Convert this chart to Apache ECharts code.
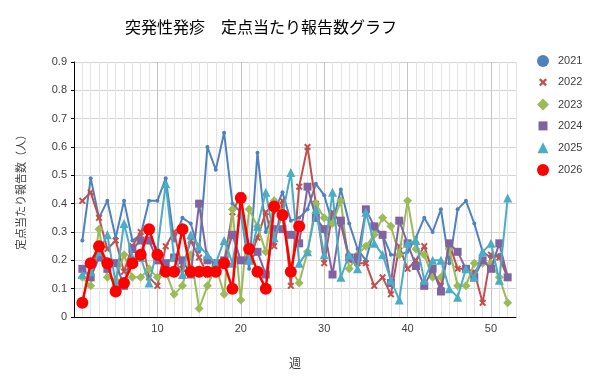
<!DOCTYPE html>
<html>
<head>
<meta charset="utf-8">
<script src="https://cdn.jsdelivr.net/npm/echarts@6/dist/echarts.min.js"></script>
<style>
  html, body { margin: 0; padding: 0; background: #fff; }
  #chart { width: 600px; height: 384px; }
</style>
</head>
<body>
<div id="chart"></div>
<script>
// 週 1..52
const weeks = Array.from({ length: 52 }, (_, i) => i + 1);
const years = ['2021', '2022', '2023', '2024', '2025', '2026'];

const v2021 = [0.27, 0.49, 0.35, 0.41, 0.28, 0.41, 0.27, 0.29, 0.41, 0.41,
  0.49, 0.27, 0.35, 0.33, 0.23, 0.60, 0.52, 0.65, 0.40, 0.37,
  0.17, 0.58, 0.30, 0.37, 0.44, 0.34, 0.35, 0.38, 0.47, 0.43,
  0.33, 0.45, 0.33, 0.24, 0.20, 0.31, 0.29, 0.22, 0.22, 0.23,
  0.28, 0.35, 0.30, 0.38, 0.19, 0.38, 0.41, 0.33, 0.23, 0.21,
  0.22, 0.14];
const v2022 = [0.41, 0.44, 0.35, 0.24, 0.27, 0.16, 0.25, 0.30, 0.14, 0.11,
  0.25, 0.30, 0.17, 0.27, 0.21, 0.15, 0.17, 0.19, 0.37, 0.43,
  0.20, 0.28, 0.37, 0.25, 0.41, 0.11, 0.46, 0.60, 0.40, 0.19,
  0.37, 0.33, 0.20, 0.19, 0.19, 0.11, 0.14, 0.08, 0.25, 0.17,
  0.20, 0.25, 0.16, 0.11, 0.26, 0.17, 0.17, 0.16, 0.05, 0.22,
  0.21, 0.14];
const v2023 = [0.14, 0.11, 0.31, 0.14, 0.13, 0.22, 0.14, 0.14, 0.17, 0.14,
  0.16, 0.08, 0.11, 0.22, 0.03, 0.11, 0.18, 0.08, 0.38, 0.06,
  0.38, 0.32, 0.23, 0.41, 0.37, 0.17, 0.12, 0.23, 0.40, 0.35,
  0.33, 0.41, 0.17, 0.22, 0.25, 0.29, 0.35, 0.32, 0.22, 0.41,
  0.24, 0.22, 0.14, 0.14, 0.24, 0.11, 0.11, 0.19, 0.19, 0.19,
  0.14, 0.05];
const v2024 = [0.17, 0.14, 0.21, 0.17, 0.19, 0.11, 0.24, 0.27, 0.27, 0.20,
  0.19, 0.21, 0.20, 0.15, 0.40, 0.20, 0.19, 0.20, 0.29, 0.20,
  0.20, 0.23, 0.15, 0.31, 0.31, 0.29, 0.26, 0.46, 0.35, 0.31,
  0.15, 0.34, 0.21, 0.21, 0.38, 0.32, 0.29, 0.12, 0.34, 0.26,
  0.18, 0.11, 0.17, 0.09, 0.26, 0.23, 0.17, 0.14, 0.20, 0.17,
  0.26, 0.14];
const v2025 = [0.15, 0.16, 0.23, 0.29, 0.12, 0.33, 0.21, 0.21, 0.12, 0.24,
  0.47, 0.21, 0.15, 0.29, 0.25, 0.22, 0.19, 0.27, 0.19, 0.37,
  0.20, 0.32, 0.44, 0.28, 0.36, 0.51, 0.19, 0.23, 0.38, 0.22,
  0.44, 0.14, 0.22, 0.17, 0.37, 0.26, 0.22, 0.13, 0.06, 0.26,
  0.27, 0.13, 0.20, 0.20, 0.10, 0.07, 0.17, 0.14, 0.23, 0.26,
  0.13, 0.42];
const v2026 = [0.05, 0.19, 0.25, 0.19, 0.09, 0.12, 0.19, 0.22, 0.31, 0.22,
  0.16, 0.16, 0.31, 0.16, 0.16, 0.16, 0.16, 0.19, 0.10, 0.42,
  0.24, 0.16, 0.10, 0.39, 0.36, 0.16, 0.32];

const values = [v2021, v2022, v2023, v2024, v2025, v2026];
const colors = ['#4F81BD', '#C0504D', '#9BBB59', '#8064A2', '#4BACC6', '#FF0000'];

const crossPath = 'path://M2,0 L5,3 L8,0 L10,2 L7,5 L10,8 L8,10 L5,7 L2,10 L0,8 L3,5 L0,2 Z';
const symbols = ['circle', crossPath, 'diamond', 'rect', 'triangle', 'circle'];
const symbolSizes = [4, 7, 9, 8, 9, 12];
const legendSizes = [12, 8, 12, 9, 11, 12];
const lineWidths = [2, 2, 2, 2, 2, 2.5];

const jp = '"Noto Sans CJK JP", sans-serif';
const num = '"Liberation Sans", Arial, sans-serif';

const chart = echarts.init(document.getElementById('chart'));

const series = years.map((y, k) => ({
  name: y,
  type: 'line',
  data: values[k].map((v, i) => [weeks[i], v]),
  symbol: symbols[k],
  symbolSize: symbolSizes[k],
  showAllSymbol: true,
  color: colors[k],
  lineStyle: { width: lineWidths[k], color: colors[k] },
  itemStyle: { color: colors[k] },
  animation: false,
  z: 2 + k
}));

// 凡例は年ごとに別々に置く（アイコンの大きさを変えるため）
// アイコン中心 x=543、文字の開始 x=558 に揃える
const legends = years.map((y, k) => {
  const s = legendSizes[k];
  return {
    data: [{ name: y, icon: symbols[k] }],
    left: 543 - s / 2,
    top: 55 + k * 21.8,
    padding: 0,
    itemWidth: s,
    itemHeight: s,
    selectedMode: false,
    textStyle: {
      fontSize: 11, color: '#404040', fontFamily: num,
      padding: [0, 0, 0, 10 - s / 2]
    }
  };
});

const minorCol = '#e4e4e4';
const majorCol = '#c4c4c4';

chart.setOption({
  backgroundColor: '#fff',
  animation: false,
  title: {
    text: '突発性発疹　定点当たり報告数グラフ',
    left: 125,
    top: 19,
    padding: 0,
    textStyle: { fontSize: 16, fontWeight: 'normal', color: '#000', fontFamily: jp }
  },
  legend: legends,
  grid: { left: 74, right: 84, top: 62, bottom: 67, containLabel: false },
  xAxis: {
    type: 'value',
    min: 0,
    max: 53,
    interval: 1,
    name: '週',
    nameLocation: 'middle',
    nameGap: 40,
    nameTextStyle: { fontSize: 12, color: '#404040', fontFamily: jp },
    axisLine: { show: true, lineStyle: { color: '#000', width: 1 } },
    axisTick: { show: false },
    axisLabel: {
      margin: 6,
      fontSize: 11,
      color: '#404040',
      fontFamily: num,
      formatter: v => (v > 0 && v % 10 === 0 ? String(v) : '')
    },
    splitLine: {
      show: true,
      lineStyle: {
        width: 1,
        color: [majorCol, minorCol, minorCol, minorCol, minorCol, minorCol, minorCol, minorCol, minorCol, minorCol]
      }
    }
  },
  yAxis: {
    type: 'value',
    min: 0,
    max: 0.9,
    interval: 0.1,
    name: '定点当たり報告数（人）',
    nameLocation: 'middle',
    nameGap: 48,
    nameTextStyle: { fontSize: 11, color: '#404040', fontFamily: jp },
    axisLine: { show: true, lineStyle: { color: '#000', width: 1 } },
    axisTick: { show: true, length: 3, lineStyle: { color: '#000' } },
    axisLabel: {
      margin: 7,
      fontSize: 11,
      color: '#404040',
      fontFamily: num,
      formatter: v => String(Math.round(v * 10) / 10)
    },
    splitLine: { show: true, lineStyle: { color: '#d4d4d4', width: 1 } }
  },
  series: series
});
</script>
</body>
</html>
